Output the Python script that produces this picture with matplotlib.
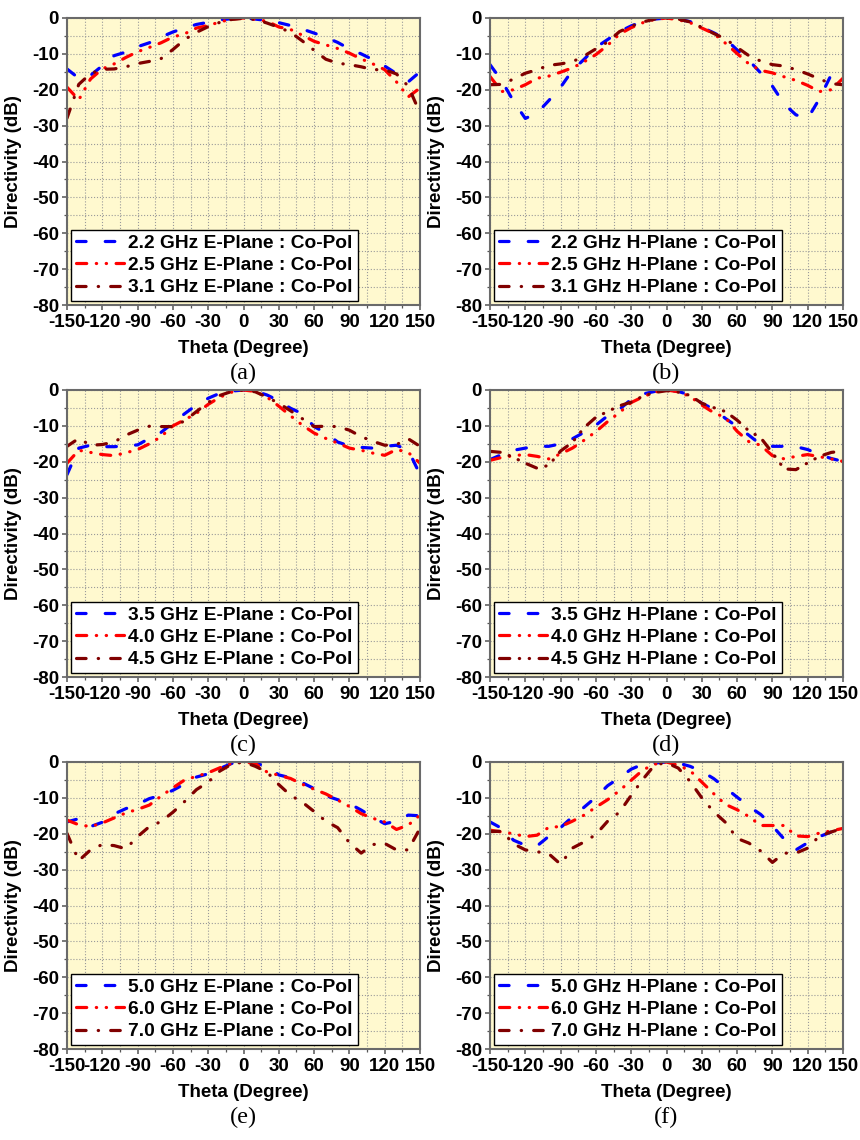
import matplotlib
matplotlib.use('Agg')
import matplotlib.pyplot as plt
from matplotlib.ticker import MultipleLocator

plt.rcParams["axes.unicode_minus"] = False

THETA = list(range(-150, 151, 10))

# (a) E-plane, low band
A22 = [-14.2,-16.8,-16,-13.3,-10.5,-9.5,-8,-6.9,-5.3,-3.9,-2.8,-1.8,-1.2,-0.5,-0.2,0,-0.3,-0.7,-1.3,-2.1,-3.1,-4.2,-5.4,-6.8,-8.6,-10,-11.6,-13.4,-15.5,-17.8,-15]
A25 = [-19.3,-22.8,-17,-14.2,-12.8,-11,-9.4,-8.2,-6.9,-5.3,-4.4,-2.8,-2.1,-1.1,-0.3,0,-0.4,-0.9,-2.5,-3.2,-4.8,-6.5,-7.5,-8.5,-9.8,-11.4,-12.8,-14.4,-17.8,-22,-19.5]
A31 = [-27.9,-18.5,-15.5,-14.3,-14.2,-13.6,-12.7,-12.1,-11.3,-8.8,-6,-4,-2.4,-1.2,-0.4,-0.1,-0.4,-1.4,-2.6,-4,-6.4,-9,-11.5,-12.6,-13,-13.6,-14.4,-14.4,-15.6,-19,-26.5]
# (b) H-plane, low band
B22 = [-13,-17.5,-23.2,-28,-26.5,-23,-19.3,-14.6,-11.5,-8.2,-6,-3.8,-2.2,-1,-0.3,0,-0.3,-1,-2.6,-4.1,-5.8,-8.9,-11.8,-15.3,-19,-24,-27,-28,-22.5,-15.8,-13.3]
B25 = [-16.3,-20.5,-20,-18.6,-16.8,-16.2,-15.1,-13.9,-12.2,-10.2,-7.6,-4.5,-2.7,-1.3,-0.4,0,-0.5,-1.3,-2.8,-4.3,-7,-9.9,-12.8,-14.6,-15.3,-16.4,-17.4,-18.8,-20.5,-20,-16.8]
B31 = [-18.6,-18.5,-17,-15.4,-14.4,-13.2,-12.8,-12.2,-10.6,-8.6,-6.7,-3.8,-2.3,-1.1,-0.3,0,-0.3,-1.1,-2.6,-4.3,-5.8,-8.2,-10.5,-12,-13,-13.4,-14.4,-15.6,-17,-18.3,-18.6]
# (c) E-plane, mid band
C35 = [-23.6,-16.2,-15.4,-15.8,-15.8,-15.6,-15.3,-13.5,-11.8,-9.2,-6.6,-4.2,-2.3,-0.9,-0.3,0,-0.3,-1.4,-3,-5.1,-6.6,-10.2,-12,-14.5,-15.6,-16,-16.2,-15.7,-15.4,-16.7,-23.6]
C40 = [-20.4,-16.8,-17.4,-18,-18.3,-17.5,-16.6,-15,-13,-10,-8.3,-6.5,-4,-2,-0.6,0,-0.4,-2,-4.5,-7.2,-9.8,-12,-13.5,-14.8,-16.2,-16.8,-17.6,-18.2,-16.6,-17.4,-20.4]
C45 = [-15.7,-13.5,-15.4,-15.2,-14.5,-12.6,-11.2,-10.1,-10.2,-10.2,-8.6,-6,-3.5,-1.5,-0.4,0,-0.5,-2,-3.7,-5.8,-8,-10.2,-10.1,-10.2,-11.2,-13,-14.3,-15.4,-15.2,-13.6,-15.7]
# (d) H-plane, mid band
D35 = [-19.4,-18,-16.8,-16.2,-15.7,-15.7,-15,-13.6,-11.8,-9.8,-7.2,-5.4,-2.6,-1.1,-0.4,0,-0.4,-1.4,-3.7,-5.3,-7.9,-10.2,-12.6,-15.2,-15.7,-15.7,-15.8,-16.6,-18,-19.1,-19.9]
D40 = [-19.6,-18.8,-18.3,-18,-18.5,-19.2,-17.8,-16.2,-14,-11.6,-8.8,-6.3,-3.5,-1.9,-0.6,0,-0.5,-1.8,-4.2,-6.3,-7.7,-11.5,-14.4,-15.4,-18.3,-19.2,-18.5,-18,-18.6,-19.2,-19.9]
D45 = [-17.1,-17.4,-18.8,-20.4,-21.8,-21,-17,-14.6,-10.5,-7.6,-6,-4.4,-3.4,-1.7,-0.7,-0.2,-0.6,-1.5,-3.7,-4.9,-6,-8.4,-11.4,-13.3,-17.5,-22,-22.2,-20.3,-18.5,-17.4,-17]
# (e) E-plane, high band
E50 = [-16.7,-15.8,-18,-16.8,-14.5,-13,-11.8,-10.2,-9.3,-7.9,-6.1,-4.2,-3.3,-1.8,-0.4,0,-0.4,-1.2,-3.6,-4.4,-5.8,-7.4,-9.4,-10.5,-11.6,-13.4,-15.4,-17.2,-16.5,-14.8,-15]
E60 = [-16.2,-17.5,-18,-17,-15.6,-14.2,-13.2,-12,-9.5,-7.2,-5,-4,-3,-1.6,-0.4,0,-0.4,-2.8,-3.7,-4.6,-6.2,-7.6,-8.9,-10.6,-12.4,-14.4,-15.7,-16.7,-18.8,-17.6,-14.8]
E70 = [-19.9,-27.5,-24.5,-23,-23.3,-24.2,-20.8,-18,-16.6,-14,-11,-7.7,-5.6,-2.5,-0.6,0,-1.2,-2.8,-6.3,-9.3,-11.2,-13.8,-16.5,-18.3,-22.5,-25.4,-23,-22.7,-24.5,-24.5,-18.5]
# (f) H-plane, high band
F50 = [-16.7,-18.5,-21.8,-23.2,-23.4,-20.7,-18.3,-15.3,-12.6,-9.8,-6.6,-4.4,-2,-0.6,-0.3,0,-0.3,-1.2,-2.6,-4.6,-7.2,-9.8,-12.4,-14.6,-17.8,-21.5,-24.5,-22.5,-20.8,-19.5,-17.1]
F60 = [-19,-19.5,-20,-20.8,-20.4,-18.2,-18,-16.5,-14.8,-12.6,-10.5,-8,-5.1,-2.2,-0.6,0,-0.9,-2.4,-5.6,-8.8,-11.8,-13.3,-15.2,-17.7,-17.7,-17.7,-20.6,-20.8,-19.8,-19.2,-18.5]
F70 = [-19.4,-19.3,-22.8,-24.5,-25,-25.6,-28.5,-24,-22.3,-20.2,-16.5,-14,-9.3,-4.8,-0.8,-0.2,-1.7,-5.4,-10,-13.8,-16.8,-21.3,-22.6,-24.8,-28,-25.4,-25.4,-24,-20.6,-19.5,-18.5]

FREQS = [["2.2", "2.5", "3.1"], ["2.2", "2.5", "3.1"],
         ["3.5", "4.0", "4.5"], ["3.5", "4.0", "4.5"],
         ["5.0", "6.0", "7.0"], ["5.0", "6.0", "7.0"]]
PLANES = ["E", "H", "E", "H", "E", "H"]
DATA = [[A22, A25, A31], [B22, B25, B31], [C35, C40, C45],
        [D35, D40, D45], [E50, E60, E70], [F50, F60, F70]]
CAPTIONS = ["(a)", "(b)", "(c)", "(d)", "(e)", "(f)"]

COLORS = ["#0000FF", "#FF0000", "#800000"]
DASH = (3.0, 6.0)
DDOT = (3.2, 3.0, 0.1, 3.0, 0.1, 3.0)
DDASH = (3.0, 3.8, 0.1, 3.8)

W, H = 860, 1140
fig = plt.figure(figsize=(W / 100, H / 100), dpi=100)
FONT = "Liberation Sans"

lefts = [67, 490]
tops = [18, 390, 762]
aw, ah = 353, 287

for i in range(6):
    col, row = i % 2, i // 2
    l = lefts[col]
    t = tops[row]
    ax = fig.add_axes([l / W, 1 - (t + ah) / H, aw / W, ah / H])
    ax.set_facecolor("#FFF9CF")
    styles = [DASH, DDOT, DDOT if i == 3 else DDASH]
    for k in range(3):
        lbl = f"{FREQS[i][k]} GHz {PLANES[i]}-Plane : Co-Pol"
        ln, = ax.plot(THETA, DATA[i][k], color=COLORS[k], lw=2.3, label=lbl,
                      dash_capstyle="round", solid_capstyle="round")
        ln.set_dashes(styles[k])
    ax.set_xlim(-150, 150)
    ax.set_ylim(-80, 0)
    ax.xaxis.set_major_locator(MultipleLocator(30))
    ax.xaxis.set_minor_locator(MultipleLocator(15))
    ax.yaxis.set_major_locator(MultipleLocator(10))
    ax.yaxis.set_minor_locator(MultipleLocator(5))
    ax.grid(True, which="both", color="#9a9a9a", linestyle=":", linewidth=0.8)
    ax.set_axisbelow(True)
    for s in ax.spines.values():
        s.set_color("#6a6a6a")
        s.set_linewidth(1.5)
    ax.tick_params(which="major", direction="out", length=3.8, width=1.1,
                   color="#555555", labelsize=13.5, pad=2)
    ax.tick_params(which="minor", direction="out", length=2.2, width=0.9,
                   color="#555555")
    ax.tick_params(axis="x", which="major", pad=3)
    for lab in ax.get_xticklabels() + ax.get_yticklabels():
        lab.set_fontweight("bold")
        lab.set_fontfamily(FONT)
    ax.set_xlabel("Theta (Degree)", fontsize=13.5, fontweight="bold",
                  family=FONT, labelpad=6)
    ax.set_ylabel("Directivity (dB)", fontsize=13.5, fontweight="bold",
                  family=FONT)
    ax.yaxis.set_label_coords(-0.127, 0.5)
    leg = ax.legend(loc="lower left", prop={"family": FONT, "weight": "bold",
                                             "size": 13.8},
                    handlelength=2.5, handletextpad=0.25, borderpad=0.25,
                    labelspacing=0.25, borderaxespad=0.2, fancybox=False,
                    framealpha=1, edgecolor="black", facecolor="white")
    leg.get_frame().set_linewidth(1.0)
    fig.text((l + aw / 2) / W, 1 - (t + ah + 68) / H, CAPTIONS[i],
             ha="center", va="center", fontsize=17.5, family="Liberation Serif")

fig.savefig("out.png", dpi=100)
